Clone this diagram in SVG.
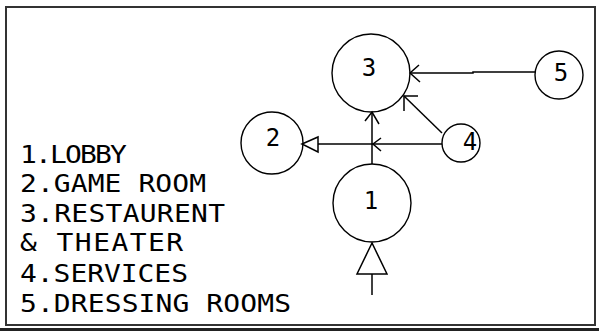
<svg xmlns="http://www.w3.org/2000/svg" width="599" height="331" viewBox="0 0 599 331">
  <style>
    .room { fill: none; stroke: #000; stroke-width: 1.4; }
    .num { font-family: "DejaVu Sans Mono", "Liberation Mono", monospace; font-size: 24px; fill: #000; text-anchor: middle; dominant-baseline: central; }
    .key { font-family: "DejaVu Sans Mono", "Liberation Mono", monospace; font-size: 24px; fill: #000; }
    .link { fill: none; stroke: #000; stroke-width: 1.5; }
    .head { fill: none; stroke: #000; stroke-width: 1.5; }
    .tri { fill: #fff; stroke: #000; stroke-width: 1.5; }
  </style>
  <rect width="599" height="331" fill="#fff"/>

  <!-- sheet border -->
  <rect x="6" y="7" width="589" height="318" fill="none" stroke="#333" stroke-width="2"/>
  <line x1="0" y1="329.5" x2="599" y2="329.5" stroke="#222" stroke-width="3"/>

  <!-- connectors -->
  <g id="connectors">
    <!-- 5 to 3 -->
    <polyline class="link" points="535,72 473,72 473,73 410,73"/>
    <polyline class="head" points="419,65 410,73 420,82"/>
    <!-- 4 to 3 -->
    <line class="link" x1="442" y1="133" x2="404" y2="96"/>
    <polyline class="head" points="418,96 404,96 404,111"/>
    <!-- 4 to 2 -->
    <line class="link" x1="442" y1="144" x2="318" y2="144"/>
    <polyline class="head" points="381,138 373,144 381,151"/>
    <polygon class="tri" points="302,144 318,137 318,152"/>
    <!-- 1 to 3 -->
    <line class="link" x1="372" y1="164" x2="372" y2="112"/>
    <polyline class="head" points="365,121 372,112 379,124"/>
    <!-- entrance to 1 -->
    <polygon class="tri" points="372,243 357,274 387,274"/>
    <line class="link" x1="372" y1="274" x2="372" y2="295"/>
  </g>

  <g id="room-1">
    <circle class="room" cx="372" cy="203" r="39"/>
    <text class="num" x="371" y="201">1</text>
  </g>
  <g id="room-2">
    <circle class="room" cx="272" cy="143" r="31"/>
    <text class="num" x="273" y="138">2</text>
  </g>
  <g id="room-3">
    <circle class="room" cx="371" cy="73" r="39"/>
    <text class="num" x="369" y="68">3</text>
  </g>
  <g id="room-4">
    <circle class="room" cx="461" cy="143" r="19"/>
    <text class="num" x="470" y="142">4</text>
  </g>
  <g id="room-5">
    <circle class="room" cx="559" cy="75" r="24"/>
    <text class="num" x="561" y="73">5</text>
  </g>

  <!-- key, lettering stretched horizontally -->
  <g id="legend" transform="scale(1.165,1)">
    <text class="key" x="17.17" y="163" textLength="91.8" lengthAdjust="spacing">1.LOBBY</text>
    <text class="key" x="17.17" y="192.5" textLength="159.7" lengthAdjust="spacing">2.GAME ROOM</text>
    <text class="key" x="17.17" y="222" textLength="176" lengthAdjust="spacing">3.RESTAURENT</text>
    <text class="key" x="17.17" y="251" textLength="140" lengthAdjust="spacing">&amp; THEATER</text>
    <text class="key" x="17.17" y="282" textLength="144.2" lengthAdjust="spacing">4.SERVICES</text>
    <text class="key" x="17.17" y="312" textLength="232.6" lengthAdjust="spacing">5.DRESSING ROOMS</text>
  </g>
</svg>
